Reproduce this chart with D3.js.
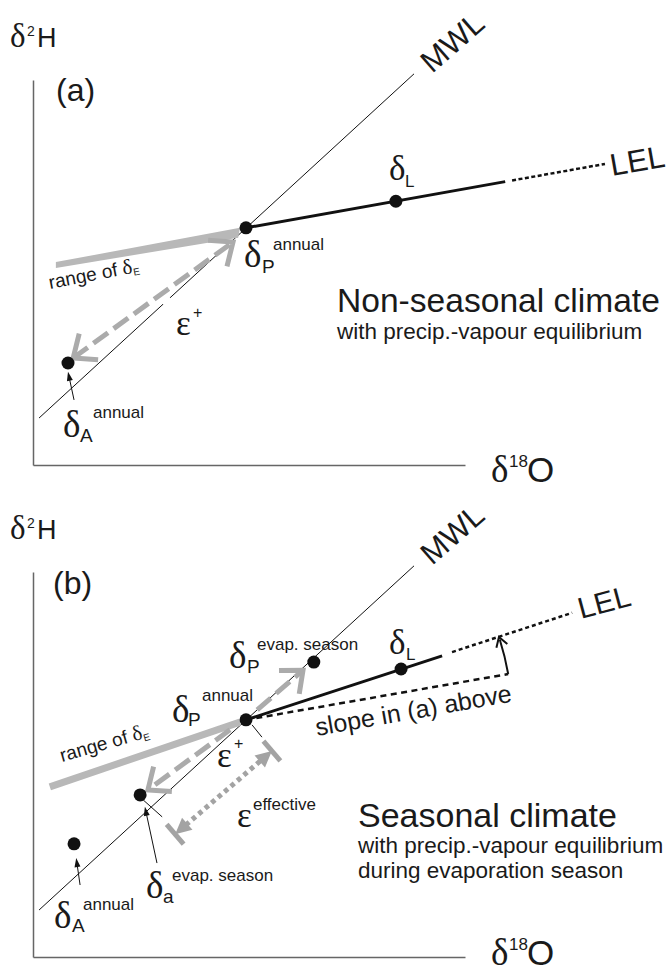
<!DOCTYPE html>
<html>
<head>
<meta charset="utf-8">
<script src="https://cdn.jsdelivr.net/npm/d3@7"></script>
<style>
  body { margin: 0; background: #fff; }
  svg text { font-family: 'Liberation Sans', Arial, sans-serif; fill: #1a1a1a; }
  svg text.gr, svg tspan.gr { font-family: 'Liberation Serif', 'Times New Roman', serif; }
</style>
</head>
<body>
<div id="chart"></div>
<script>
// schematic d18O / d2H space in arbitrary units (original has no ticks)
const xDomain = [0, 100]
const yDomain = [0, 100]

// meteoric water line, identical in both panels
const mwl = [[1.4, 12.2], [88.2, 101.6]]
const mwlGapA = [[30.1, 41.8], [31.7, 43.5]]

// (a) non-seasonal climate
const dotsA = [[49.3, 61.6], [8.1, 26.5], [84.0, 68.5]]        // dP, dA, dL
const lelSolidA = [[49.3, 61.6], [109.3, 73.6]]
const lelDotA = [[110.9, 73.9], [132.4, 78.2]]
const rangeEA = [[5.3, 52.7], [47.9, 61.6], [47.5, 59.0], [5.3, 51.2]]
const epsA = [[9.3, 27.8], [46.3, 57.9]]
const pointersA = [[[9.5, 16.9], [8.1, 24.2]]]

// (b) seasonal climate
const dotsB = [[49.3, 61.6], [65.0, 76.6], [85.2, 74.8], [24.8, 42.1], [9.5, 29.4]]
const lelSolidB = [[49.3, 61.6], [94.7, 78.2]]
const lelDotB = [[97.0, 79.2], [124.8, 89.4]]
const slopeOfA = [[49.3, 61.6], [110.0, 73.5]]
const rangeEB = [[3.9, 44.2], [47.9, 61.0]]
const epsDownB = [[45.6, 59.0], [26.6, 43.4]]
const epsUpB = [[51.9, 64.2], [62.5, 74.5]]
const epsEffB = [[32.9, 31.9], [55.3, 53.5]]
const ticksB = [[[50.7, 60.3], [53.0, 57.1]], [[25.5, 40.8], [29.9, 36.4]]]
const pointersB = [[[10.9, 18.7], [10.0, 25.7]], [[28.7, 24.4], [25.9, 39.0]]]

const W = 670, H = 974
const GREY = '#ababab'

const svg = d3.select('#chart').append('svg')
  .attr('width', W)
  .attr('height', H)

const x = d3.scaleLinear().domain(xDomain).range([33, 465])
const y = d3.scaleLinear().domain(yDomain).range([465, 80])
const line = d3.line().x(d => x(d[0])).y(d => y(d[1]))
const px = d => [x(d[0]), y(d[1])]

const gA = svg.append('g')
const gB = svg.append('g').attr('transform', 'translate(0,492)')

function axes (g) {
  g.append('g')
    .attr('transform', `translate(0,${y(0)})`)
    .call(d3.axisBottom(x).tickValues([]).tickSizeOuter(0))
    .call(thinAxis)
  g.append('g')
    .attr('transform', `translate(${x(0)},0)`)
    .call(d3.axisLeft(y).tickValues([]).tickSizeOuter(0))
    .call(thinAxis)

  function thinAxis (a) {
    a.select('.domain').attr('stroke', '#666').attr('stroke-width', 1.5)
  }
}

function path (g, pts, stroke, sw, dash) {
  return g.append('path')
    .attr('d', line(pts))
    .attr('fill', 'none')
    .attr('stroke', stroke)
    .attr('stroke-width', sw)
    .attr('stroke-dasharray', dash || null)
}

// open "V" arrow head at tip, pointing away from `from`
function vHead (g, from, tip, len, half, stroke, sw) {
  const [x0, y0] = px(from), [x1, y1] = px(tip)
  const a = Math.atan2(y0 - y1, x0 - x1)
  const p1 = [x1 + len * Math.cos(a + half), y1 + len * Math.sin(a + half)]
  const p2 = [x1 + len * Math.cos(a - half), y1 + len * Math.sin(a - half)]
  g.append('path')
    .attr('d', `M${p1}L${x1},${y1}L${p2}`)
    .attr('fill', 'none')
    .attr('stroke', stroke)
    .attr('stroke-width', sw)
}

// filled triangle head
function fHead (g, from, tip, len, w, fill) {
  const [x0, y0] = px(from), [x1, y1] = px(tip)
  const a = Math.atan2(y0 - y1, x0 - x1)
  const bx = x1 + len * Math.cos(a), by = y1 + len * Math.sin(a)
  const nx = -Math.sin(a) * w, ny = Math.cos(a) * w
  g.append('path')
    .attr('d', `M${x1},${y1}L${bx + nx},${by + ny}L${bx - nx},${by - ny}Z`)
    .attr('fill', fill)
}

function pointer (g, seg) {
  const [a, b] = [px(seg[0]), px(seg[1])]
  const d = Math.hypot(b[0] - a[0], b[1] - a[1])
  const k = (d - 7) / d
  g.append('line')
    .attr('x1', a[0]).attr('y1', a[1])
    .attr('x2', a[0] + (b[0] - a[0]) * k).attr('y2', a[1] + (b[1] - a[1]) * k)
    .attr('stroke', '#111').attr('stroke-width', 1)
  fHead(g, seg[0], seg[1], 9, 3, '#111')
}

function dots (g, data) {
  g.selectAll('.dot')
    .data(data)
    .enter()
    .append('circle')
      .attr('class', 'dot')
      .attr('cx', d => x(d[0]))
      .attr('cy', d => y(d[1]))
      .attr('r', 6.5)
      .attr('fill', '#111')
}

function txt (g, tx, ty, s, size, cls, rot) {
  return g.append('text')
    .attr('class', cls || null)
    .attr('x', tx).attr('y', ty)
    .attr('transform', rot ? `rotate(${rot},${tx},${ty})` : null)
    .attr('font-size', size)
    .text(s)
}

function axisTitles (g, oy) {
  txt(g, 10, 47, 'δ', 33, 'gr')
  txt(g, 27, 36, '2', 14)
  txt(g, 37, 47, 'H', 27)
  txt(g, 491, oy, 'δ', 37, 'gr')
  txt(g, 509, oy - 15, '18', 17)
  txt(g, 527, oy, 'O', 35)
  txt(g, 432, 74, 'MWL', 31, null, -41)
}

function rangeLabel (g, tx, ty, rot) {
  const t = g.append('text')
    .attr('transform', `translate(${tx},${ty}) rotate(${rot})`)
    .attr('font-size', 19)
  t.append('tspan').text('range of ')
  t.append('tspan').attr('class', 'gr').attr('font-size', 21).text('δ')
  t.append('tspan').attr('font-size', 10).attr('dy', 3).text('E')
}

// ---------- panel (a) ----------
axes(gA)
axisTitles(gA, 482)
txt(gA, 56, 101, '(a)', 32)

path(gA, mwl, '#111', 1)
path(gA, mwlGapA, '#fff', 3)
gA.append('path')
  .attr('d', line(rangeEA) + 'Z')
  .attr('fill', '#b8b8b8')
path(gA, epsA, GREY, 5, '18 7')
vHead(gA, epsA[1], epsA[0], 25, 0.7, GREY, 5)
vHead(gA, epsA[0], epsA[1], 25, 0.7, GREY, 5)
path(gA, lelSolidA, '#111', 3)
path(gA, lelDotA, '#111', 2.5, '4 2.5')
pointersA.forEach(s => pointer(gA, s))
dots(gA, dotsA)

txt(gA, 612, 176, 'LEL', 31, null, -10)
txt(gA, 389, 180, 'δ', 35, 'gr')
txt(gA, 405, 187, 'L', 17)
txt(gA, 244, 267, 'δ', 37, 'gr')
txt(gA, 262, 273, 'P', 19)
txt(gA, 273, 250, 'annual', 17)
txt(gA, 63, 437, 'δ', 37, 'gr')
txt(gA, 80, 442, 'A', 19)
txt(gA, 93, 418, 'annual', 17)
rangeLabel(gA, 50, 289, -11)
txt(gA, 176, 335, 'ε', 35, 'gr')
txt(gA, 193, 318, '+', 16)
txt(gA, 337, 312, 'Non-seasonal climate', 33.6)
txt(gA, 337, 339, 'with precip.-vapour equilibrium', 22.5)

// ---------- panel (b) ----------
axes(gB)
axisTitles(gB, 473)
txt(gB, 53, 102, '(b)', 32)

path(gB, mwl, '#111', 1)
path(gB, rangeEB, '#b8b8b8', 7)
path(gB, epsDownB, GREY, 5, '18 7')
vHead(gB, epsDownB[0], epsDownB[1], 24, 0.7, GREY, 5)
path(gB, epsUpB, GREY, 5, '18 7')
vHead(gB, epsUpB[0], epsUpB[1], 24, 0.7, GREY, 5)

// epsilon effective: dotted double arrow with end bars
{
  const [lo, hi] = epsEffB.map(px)
  const a = Math.atan2(hi[1] - lo[1], hi[0] - lo[0])
  const ux = Math.cos(a), uy = Math.sin(a)
  const nx = -uy * 13, ny = ux * 13
  gB.append('line')
    .attr('x1', lo[0] + ux * 14).attr('y1', lo[1] + uy * 14)
    .attr('x2', hi[0] - ux * 14).attr('y2', hi[1] - uy * 14)
    .attr('stroke', '#a3a3a3').attr('stroke-width', 5)
    .attr('stroke-dasharray', '4.5 4')
  fHead(gB, epsEffB[1], epsEffB[0], 16, 8, '#a3a3a3')
  fHead(gB, epsEffB[0], epsEffB[1], 16, 8, '#a3a3a3')
  ;[lo, hi].forEach(p => {
    gB.append('line')
      .attr('x1', p[0] - nx).attr('y1', p[1] - ny)
      .attr('x2', p[0] + nx).attr('y2', p[1] + ny)
      .attr('stroke', '#a3a3a3').attr('stroke-width', 5)
  })
}
ticksB.forEach(s => path(gB, s, '#111', 1))

path(gB, slopeOfA, '#111', 2.5, '6 4.5')
path(gB, lelSolidB, '#111', 3)
path(gB, lelDotB, '#111', 2.5, '4 3')

// curved arrow: from the (a) slope up to the new LEL, centred on dP
{
  const c = px(dotsB[0])
  const s = px(slopeOfA[1])
  const r = Math.hypot(s[0] - c[0], s[1] - c[1])
  const dl = px(dotsB[2])
  const aEnd = Math.atan2(dl[1] - c[1], dl[0] - c[0])
  const aStart = Math.atan2(s[1] - c[1], s[0] - c[0])
  const e = [c[0] + r * Math.cos(aEnd), c[1] + r * Math.sin(aEnd)]
  const p = d3.path()
  p.arc(c[0], c[1], r, aStart, aEnd + 0.01, true)
  gB.append('path').attr('d', p.toString())
    .attr('fill', 'none').attr('stroke', '#111').attr('stroke-width', 2)
  const ta = aEnd + Math.PI / 2   // tangent direction back along arc
  const hl = 11
  const q1 = [e[0] + hl * Math.cos(ta + 0.55), e[1] + hl * Math.sin(ta + 0.55)]
  const q2 = [e[0] + hl * Math.cos(ta - 0.55), e[1] + hl * Math.sin(ta - 0.55)]
  gB.append('path')
    .attr('d', `M${q1}L${e}L${q2}`)
    .attr('fill', 'none').attr('stroke', '#111').attr('stroke-width', 2)
}

pointersB.forEach(s => pointer(gB, s))
dots(gB, dotsB)

txt(gB, 581, 127, 'LEL', 30, null, -15)
txt(gB, 389, 162, 'δ', 35, 'gr')
txt(gB, 406, 168, 'L', 17)
txt(gB, 229, 176, 'δ', 37, 'gr')
txt(gB, 247, 181, 'P', 19)
txt(gB, 257, 158, 'evap. season', 17)
txt(gB, 172, 230, 'δ', 37, 'gr')
txt(gB, 188, 234, 'P', 19)
txt(gB, 202, 209, 'annual', 17)
rangeLabel(gB, 62, 270, -16)
txt(gB, 217, 275, 'ε', 35, 'gr')
txt(gB, 234, 257, '+', 16)
txt(gB, 237, 335, 'ε', 35, 'gr')
txt(gB, 253, 318, 'effective', 17)
txt(gB, 146, 406, 'δ', 37, 'gr')
txt(gB, 163, 411, 'a', 19)
txt(gB, 172, 389, 'evap. season', 17)
txt(gB, 54, 436, 'δ', 37, 'gr')
txt(gB, 72, 440, 'A', 19)
txt(gB, 83, 418, 'annual', 17)
txt(gB, 317, 244, 'slope in (a) above', 25, null, -10)
txt(gB, 358, 335, 'Seasonal climate', 34)
txt(gB, 358, 361, 'with precip.-vapour equilibrium', 22.5)
txt(gB, 358, 386, 'during evaporation season', 22.5)
</script>
</body>
</html>
